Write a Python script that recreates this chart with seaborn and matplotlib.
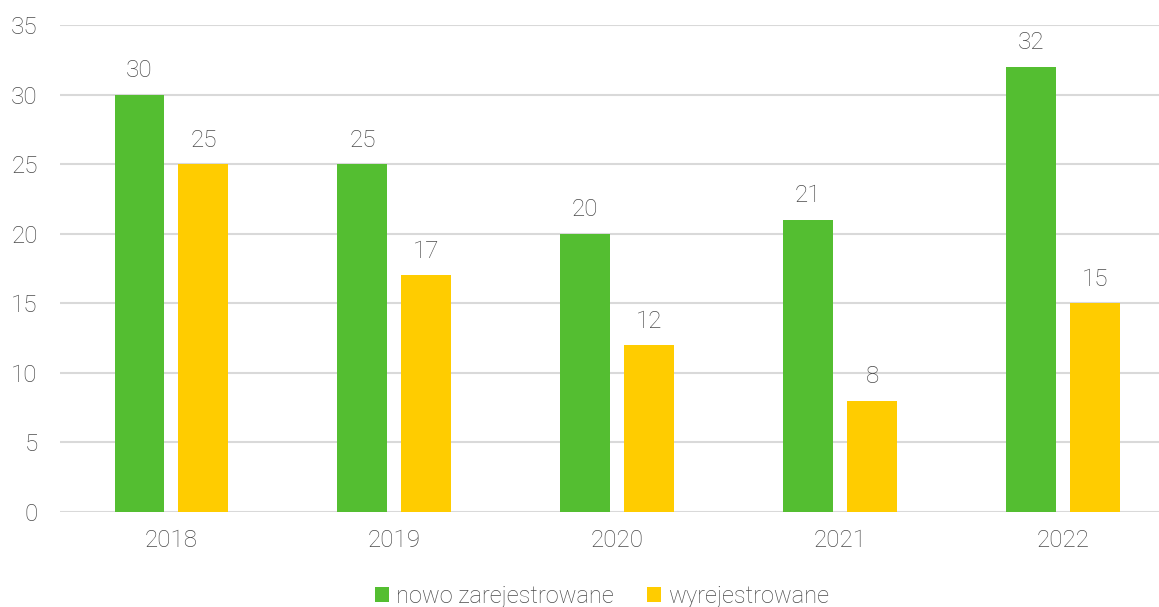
import pandas as pd
import seaborn as sns
import matplotlib.pyplot as plt

# data
years = ['2018', '2019', '2020', '2021', '2022']
nowo = [30, 25, 20, 21, 32]
wyrej = [25, 17, 12, 8, 15]
series = ['nowo zarejestrowane', 'wyrejestrowane']
colors = ['#54BE31', '#FFCC00']

df = pd.DataFrame({
    'rok': years * 2,
    'liczba': nowo + wyrej,
    'typ': [series[0]] * len(years) + [series[1]] * len(years),
})

sns.set_style('white')
plt.rcParams['font.family'] = ['Roboto', 'DejaVu Sans']
plt.rcParams['font.weight'] = 'light'
text_color = '#4a4a4a'

fig = plt.figure(figsize=(11.59, 6.07), dpi=100)
ax = fig.add_axes([60 / 1159, 95 / 607, 1 - 60 / 1159, 487 / 607])

sns.barplot(data=df, x='rok', y='liczba', hue='typ', palette=colors,
            saturation=1, linewidth=0, width=0.574, gap=0.22, ax=ax, legend=True)

for cont in ax.containers:
    ax.bar_label(cont, padding=9, fontsize=17.5, color=text_color, fontweight='light')

ax.set_ylim(0, 35)
ax.set_yticks(range(0, 36, 5))
ax.set_xlim(-0.5, 4.43)
ax.grid(axis='y', color='#D9D9D9', linewidth=1.5)
ax.set_axisbelow(True)
for s in ax.spines.values():
    s.set_visible(False)
ax.set_xlabel('')
ax.set_ylabel('')
ax.tick_params(axis='both', length=0, labelsize=17.5, colors=text_color)
ax.tick_params(axis='y', pad=16)
ax.tick_params(axis='x', pad=12)

ax.legend(loc='center', bbox_to_anchor=(602 / 1159, 0.018), bbox_transform=fig.transFigure,
          ncol=2, frameon=False, fontsize=17, handlelength=0.6, handleheight=0.6,
          handletextpad=0.3, columnspacing=1.4, labelcolor=text_color)

fig.savefig('out.png', dpi=100)
